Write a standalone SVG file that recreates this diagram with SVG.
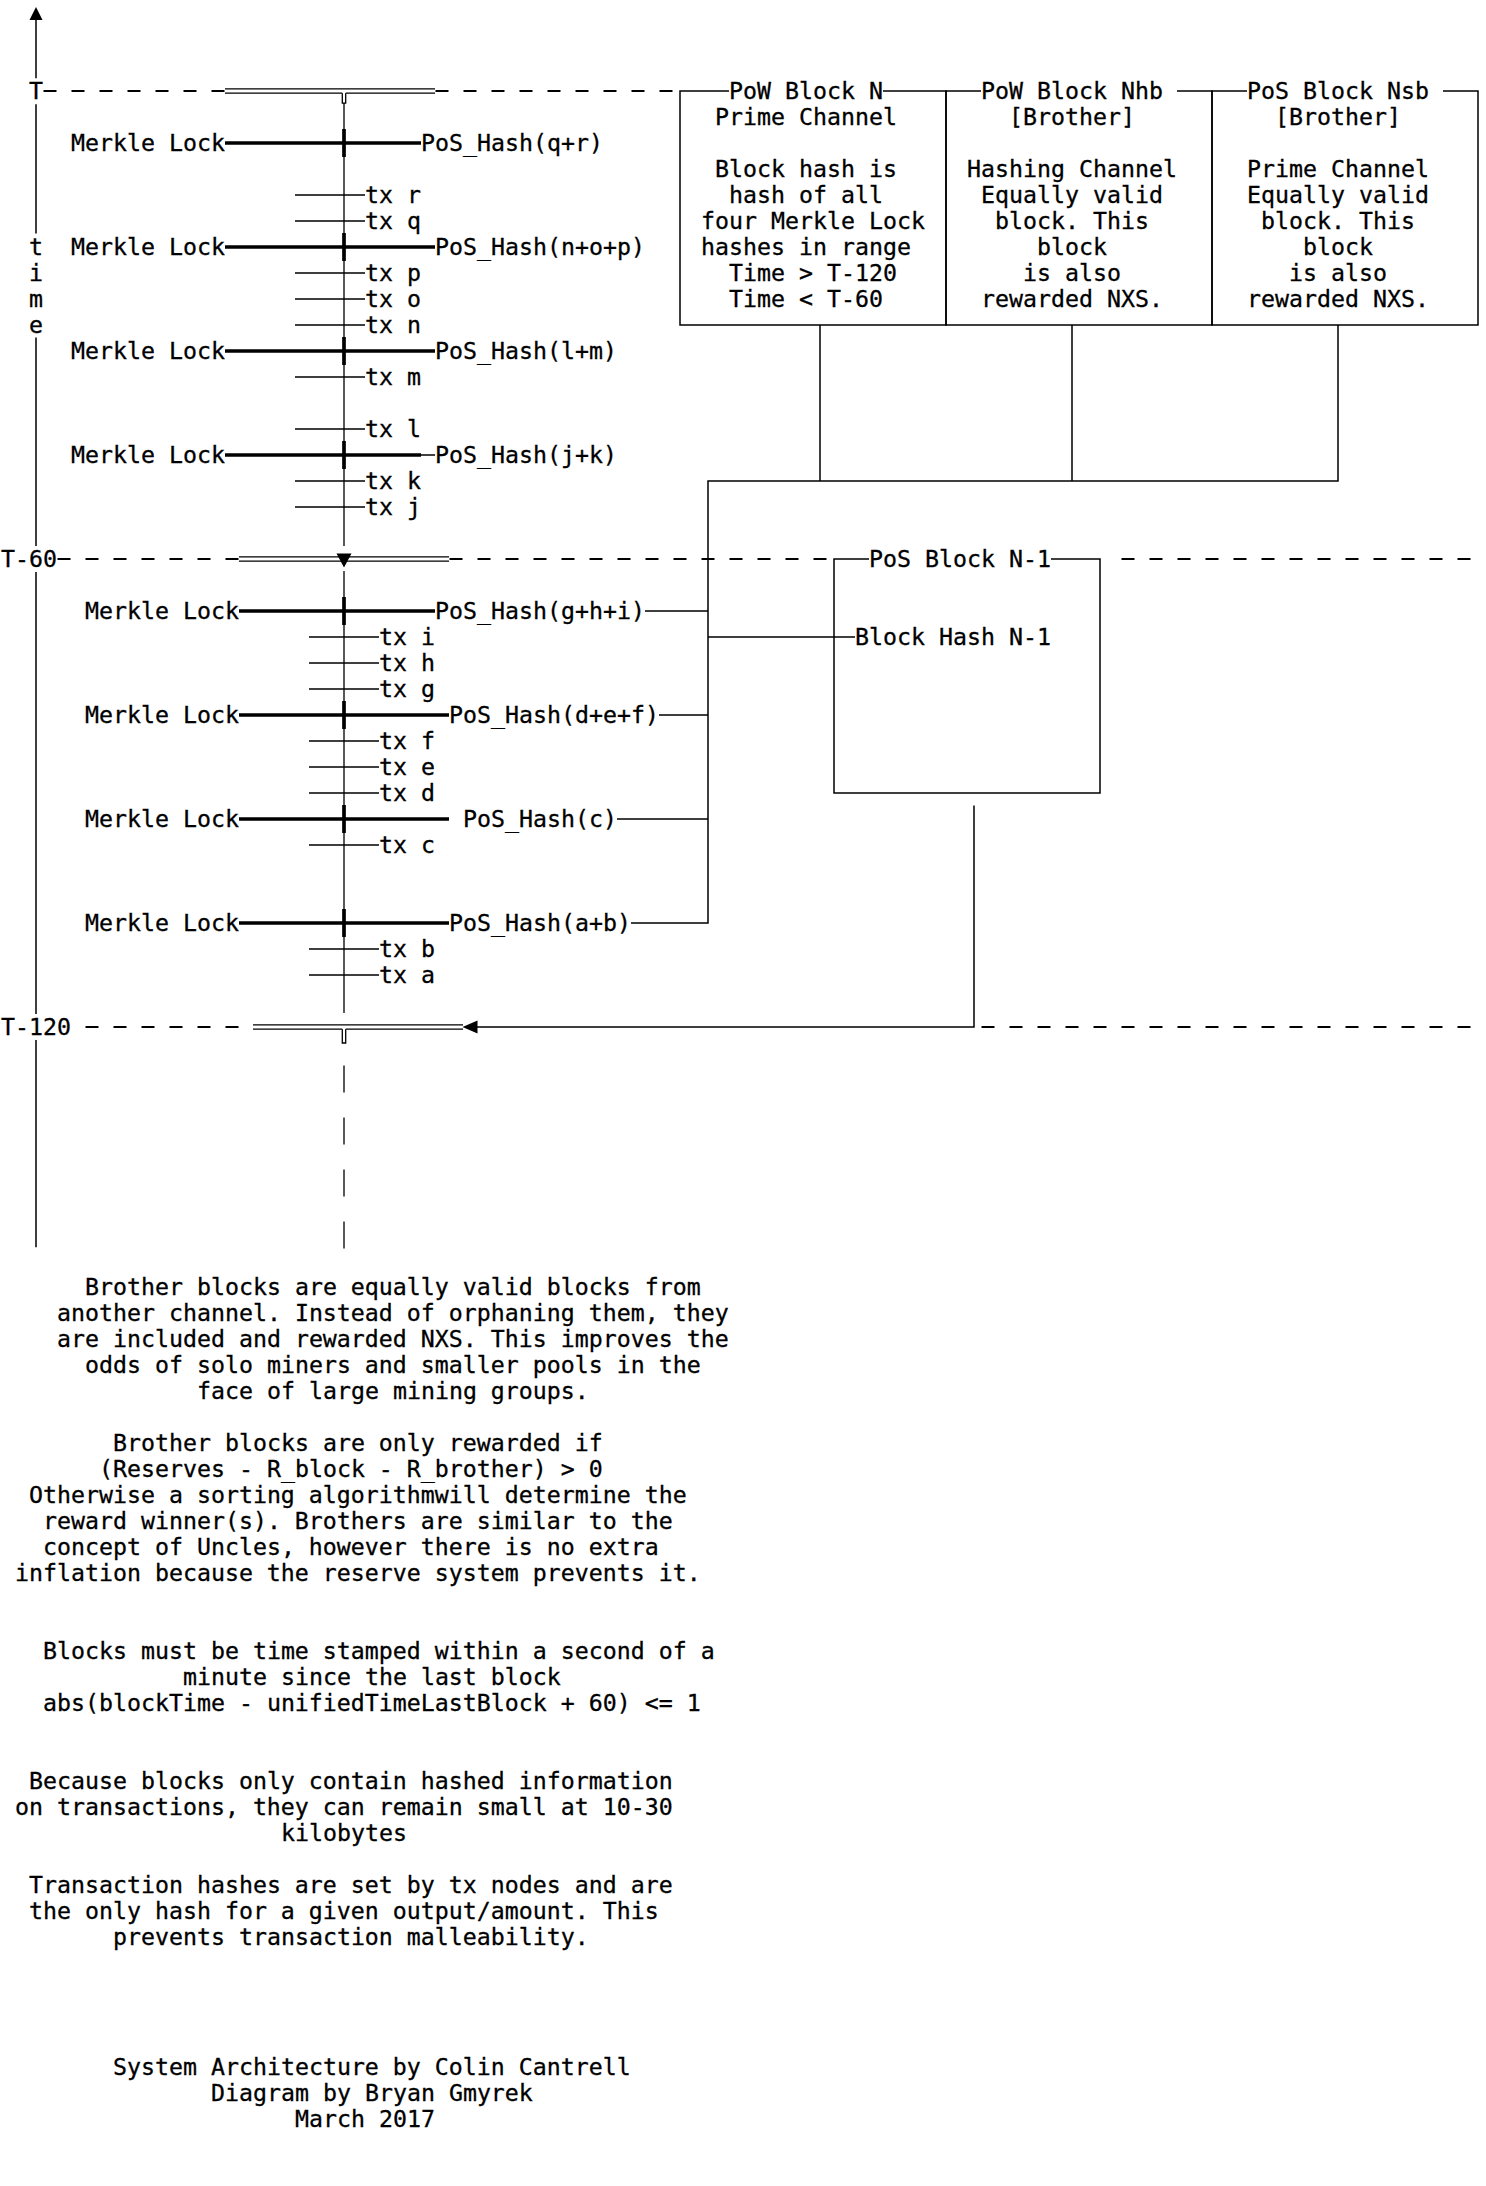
<svg xmlns="http://www.w3.org/2000/svg" width="1486" height="2186" viewBox="0 0 1486 2186">
<style>
text{font-family:"DejaVu Sans Mono","Liberation Mono",monospace;font-size:23.25px;fill:#000;stroke:#000;stroke-width:0.3}
.l{stroke:#000;stroke-width:1.5;fill:none}
.m{stroke:#000;stroke-width:1.3;fill:none}
.h{stroke:#000;stroke-width:3.7;fill:none}
.d{stroke:#000;stroke-width:1.8;fill:none;stroke-dasharray:13 15}
.dd{stroke:#000;stroke-width:1.2;fill:none}
.ar{fill:#000}
</style>
<rect width="1486" height="2186" fill="#fff"/>
<g transform="matrix(1 0 0 1.001927 0 -0.025)">

<g id="time-axis">
<polygon class="ar" points="36,7 29.5,20 42.5,20"/>
<path class="l" d="M36,20V78 M36,104V233 M36,337V545 M36,571V1012 M36,1038V1245"/>
<text x="29" y="98.55">T</text>
<text x="29" y="254.25">t</text>
<text x="29" y="280.2">i</text>
<text x="29" y="306.15">m</text>
<text x="29" y="332.1">e</text>
<text x="1" y="565.65">T-60</text>
<text x="1" y="1032.75">T-120</text>
</g>

<g id="time-marks">
<line class="d" x1="43.5" y1="90.85" x2="224.5" y2="90.85"/>
<line class="d" x1="435.5" y1="90.85" x2="672.5" y2="90.85"/>
<line class="d" x1="57.5" y1="557.95" x2="238.5" y2="557.95"/>
<line class="d" x1="449.5" y1="557.95" x2="826.5" y2="557.95"/>
<line class="d" x1="1121.5" y1="557.95" x2="1470.5" y2="557.95"/>
<line class="d" x1="85.5" y1="1025.05" x2="238.5" y2="1025.05"/>
<line class="d" x1="981.5" y1="1025.05" x2="1470.5" y2="1025.05"/>
<path class="dd" d="M225,88.7H435 M225,93H342.3 M345.7,93H435"/>
<path class="dd" d="M239,555.8H449 M239,560.1H449"/>
<path class="dd" d="M253,1022.9H463 M253,1027.2H342.3 M345.7,1027.2H463"/>
</g>

<g id="chain">
<path class="m" d="M342.3,93V103H345.7V93 M344,103V545 M344,570V1011 M342.3,1027.2V1041H345.7V1027.2"/>
<polygon class="ar" points="336.5,552.5 351.5,552.5 344,566.5"/>
<path class="m" d="M344,1063.5V1090.5 M344,1115.4V1142.4 M344,1167.2V1194.2 M344,1219.1V1246.1"/>
</g>

<g id="connectors">
<path class="h" d="M225,142.75H421 M225,246.55H435 M225,350.35H435 M225,454.15H421 M239,609.85H435 M239,713.65H449 M239,817.45H449 M239,921.25H449"/>
<path class="h" d="M344,128.75V156.75 M344,232.55V260.55 M344,336.35V364.35 M344,440.15V468.15 M344,595.85V623.85 M344,699.65V727.65 M344,803.45V831.45 M344,907.25V935.25"/>
<path class="l" d="M421,454.15H435"/>
<path class="l" d="M295,194.65H365 M295,220.6H365 M295,272.5H365 M295,298.45H365 M295,324.4H365 M295,376.3H365 M295,428.2H365 M295,480.1H365 M295,506.05H365"/>
<path class="l" d="M309,635.8H379 M309,661.75H379 M309,687.7H379 M309,739.6H379 M309,765.55H379 M309,791.5H379 M309,843.4H379 M309,947.2H379 M309,973.15H379"/>
<path class="l" d="M820,324.4V480.1 M1072,324.4V480.1 M1338,324.4V480.1H708V921.25H631"/>
<path class="l" d="M645,609.85H708 M659,713.65H708 M617,817.45H708 M708,635.8H855"/>
<path class="l" d="M974,804V1025.05H477"/>
<polygon class="ar" points="462.5,1025.05 477.5,1018.5 477.5,1031.6"/>
</g>

<g id="merkle-qr"><text x="71" y="150.45">Merkle Lock</text><text x="421" y="150.45">PoS_Hash(q+r)</text></g>
<g id="tx-r"><text x="365" y="202.35">tx r</text></g>
<g id="tx-q"><text x="365" y="228.3">tx q</text></g>
<g id="merkle-nop"><text x="71" y="254.25">Merkle Lock</text><text x="435" y="254.25">PoS_Hash(n+o+p)</text></g>
<g id="tx-p"><text x="365" y="280.2">tx p</text></g>
<g id="tx-o"><text x="365" y="306.15">tx o</text></g>
<g id="tx-n"><text x="365" y="332.1">tx n</text></g>
<g id="merkle-lm"><text x="71" y="358.05">Merkle Lock</text><text x="435" y="358.05">PoS_Hash(l+m)</text></g>
<g id="tx-m"><text x="365" y="384">tx m</text></g>
<g id="tx-l"><text x="365" y="435.9">tx l</text></g>
<g id="merkle-jk"><text x="71" y="461.85">Merkle Lock</text><text x="435" y="461.85">PoS_Hash(j+k)</text></g>
<g id="tx-k"><text x="365" y="487.8">tx k</text></g>
<g id="tx-j"><text x="365" y="513.75">tx j</text></g>

<g id="merkle-ghi"><text x="85" y="617.55">Merkle Lock</text><text x="435" y="617.55">PoS_Hash(g+h+i)</text></g>
<g id="tx-i"><text x="379" y="643.5">tx i</text></g>
<g id="tx-h"><text x="379" y="669.45">tx h</text></g>
<g id="tx-g"><text x="379" y="695.4">tx g</text></g>
<g id="merkle-def"><text x="85" y="721.35">Merkle Lock</text><text x="449" y="721.35">PoS_Hash(d+e+f)</text></g>
<g id="tx-f"><text x="379" y="747.3">tx f</text></g>
<g id="tx-e"><text x="379" y="773.25">tx e</text></g>
<g id="tx-d"><text x="379" y="799.2">tx d</text></g>
<g id="merkle-c"><text x="85" y="825.15">Merkle Lock</text><text x="463" y="825.15">PoS_Hash(c)</text></g>
<g id="tx-c"><text x="379" y="851.1">tx c</text></g>
<g id="merkle-ab"><text x="85" y="928.95">Merkle Lock</text><text x="449" y="928.95">PoS_Hash(a+b)</text></g>
<g id="tx-b"><text x="379" y="954.9">tx b</text></g>
<g id="tx-a"><text x="379" y="980.85">tx a</text></g>

<g id="pow-block-n">
<path class="l" d="M729,90.85H680V324.4H946V90.85H883"/>
<text x="729" y="98.55">PoW Block N</text>
<text x="715" y="124.5">Prime Channel</text>
<text x="715" y="176.4">Block hash is</text>
<text x="729" y="202.35">hash of all</text>
<text x="701" y="228.3">four Merkle Lock</text>
<text x="701" y="254.25">hashes in range</text>
<text x="729" y="280.2">Time &gt; T-120</text>
<text x="729" y="306.15">Time &lt; T-60</text>
</g>

<g id="pow-block-nhb">
<path class="l" d="M1177,90.85H1212V324.4H946V90.85H981"/>
<text x="981" y="98.55">PoW Block Nhb</text>
<text x="1009" y="124.5">[Brother]</text>
<text x="967" y="176.4">Hashing Channel</text>
<text x="981" y="202.35">Equally valid</text>
<text x="995" y="228.3">block. This</text>
<text x="1037" y="254.25">block</text>
<text x="1023" y="280.2">is also</text>
<text x="981" y="306.15">rewarded NXS.</text>
</g>

<g id="pos-block-nsb">
<path class="l" d="M1443,90.85H1478V324.4H1212V90.85H1247"/>
<text x="1247" y="98.55">PoS Block Nsb</text>
<text x="1275" y="124.5">[Brother]</text>
<text x="1247" y="176.4">Prime Channel</text>
<text x="1247" y="202.35">Equally valid</text>
<text x="1261" y="228.3">block. This</text>
<text x="1303" y="254.25">block</text>
<text x="1289" y="280.2">is also</text>
<text x="1247" y="306.15">rewarded NXS.</text>
</g>

<g id="pos-block-n-1">
<path class="l" d="M869,557.95H834V791.5H1100V557.95H1051"/>
<text x="869" y="565.65">PoS Block N-1</text>
<text x="855" y="643.5">Block Hash N-1</text>
</g>

<g id="notes">
<text x="85" y="1292.25">Brother blocks are equally valid blocks from</text>
<text x="57" y="1318.2">another channel. Instead of orphaning them, they</text>
<text x="57" y="1344.15">are included and rewarded NXS. This improves the</text>
<text x="85" y="1370.1">odds of solo miners and smaller pools in the</text>
<text x="197" y="1396.05">face of large mining groups.</text>
<text x="113" y="1447.95">Brother blocks are only rewarded if</text>
<text x="99" y="1473.9">(Reserves - R_block - R_brother) &gt; 0</text>
<text x="29" y="1499.85">Otherwise a sorting algorithmwill determine the</text>
<text x="43" y="1525.8">reward winner(s). Brothers are similar to the</text>
<text x="43" y="1551.75">concept of Uncles, however there is no extra</text>
<text x="15" y="1577.7">inflation because the reserve system prevents it.</text>
<text x="43" y="1655.55">Blocks must be time stamped within a second of a</text>
<text x="183" y="1681.5">minute since the last block</text>
<text x="43" y="1707.45">abs(blockTime - unifiedTimeLastBlock + 60) &lt;= 1</text>
<text x="29" y="1785.3">Because blocks only contain hashed information</text>
<text x="15" y="1811.25">on transactions, they can remain small at 10-30</text>
<text x="281" y="1837.2">kilobytes</text>
<text x="29" y="1889.1">Transaction hashes are set by tx nodes and are</text>
<text x="29" y="1915.05">the only hash for a given output/amount. This</text>
<text x="113" y="1941">prevents transaction malleability.</text>
<text x="113" y="2070.75">System Architecture by Colin Cantrell</text>
<text x="211" y="2096.7">Diagram by Bryan Gmyrek</text>
<text x="295" y="2122.65">March 2017</text>
</g>
</g>
</svg>
